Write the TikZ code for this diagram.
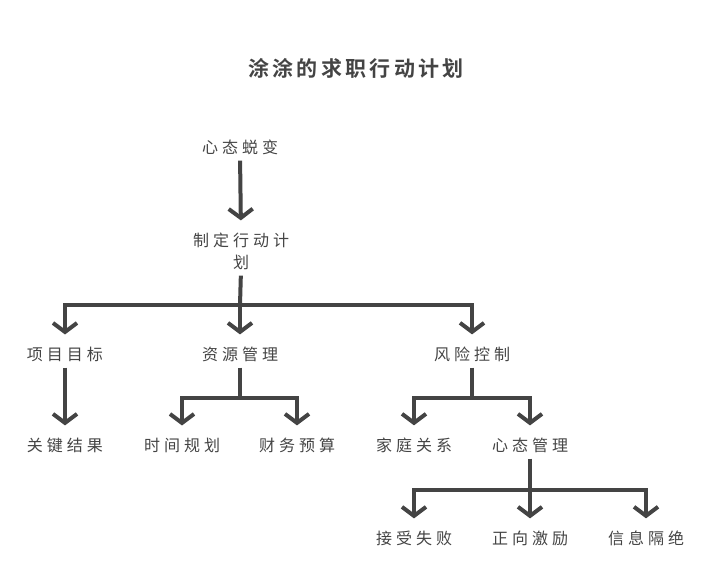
\documentclass[tikz,border=0pt]{standalone}
\usepackage{fontspec}
\newfontfamily\cjk[LetterSpace=25]{Noto Sans CJK SC}
\newfontfamily\cjktitle[LetterSpace=16]{Noto Sans CJK SC Bold}
\usetikzlibrary{positioning,arrows.meta,calc}
\definecolor{inkC}{RGB}{68,68,68}
\tikzset{
	item/.style={inner sep=0pt, text=inkC, font=\cjk\fontsize{16}{22}\selectfont},
	headline/.style={inner sep=0pt, text=inkC, font=\cjktitle\fontsize{21}{24}\selectfont},
	flow/.style={-{Straight Barb[length=9pt,width=24pt]}, line width=4pt, draw=inkC,
		shorten >=12pt, shorten <=6pt},
	branch/.style={line width=4pt, draw=inkC, shorten <=6pt},
}

\begin{document}
\begin{tikzpicture}[x=1pt,y=-1pt]
	\useasboundingbox (0,0) rectangle (712,572);
	
	% =============== TITLE ===============
	\node[headline] (title) at (356,68) {涂涂的求职行动计划};
	
	% =============== NODES ===============
	\node[item] (xt)   at (240,147) {心态蜕变};
	\node[item, align=center] (plan) at (241,251) {制定行动计\\划};
	
	\node[item] (goal) at (65,354)  {项目目标};
	\node[item] (res)  at (240,354) {资源管理};
	\node[item] (risk) at (472,354) {风险控制};
	
	\node[item] (kr)   at (65,445)  {关键结果};
	\node[item] (time) at (182,445) {时间规划};
	\node[item] (fin)  at (297,445) {财务预算};
	\node[item] (fam)  at (414,445) {家庭关系};
	\node[item] (mind) at (530,445) {心态管理};
	
	\node[item] (fail) at (414,538) {接受失败};
	\node[item] (pos)  at (530,538) {正向激励};
	\node[item] (iso)  at (646,538) {信息隔绝};
	
	% =============== BRANCH POINTS ===============
	\coordinate (planB) at (240,305);
	\coordinate (resB)  at (240,398);
	\coordinate (riskB) at (472,398);
	\coordinate (mindB) at (530,490);
	
	% =============== CONNECTORS ===============
	\draw[flow] (xt.south) -- (plan.north);
	
	\draw[branch] (plan.south) -- (planB);
	\draw[flow, shorten <=0pt] (planB) -| (goal.north);
	\draw[flow, shorten <=0pt] (planB) -- (res.north);
	\draw[flow, shorten <=0pt] (planB) -| (risk.north);
	
	\draw[flow] (goal.south) -- (kr.north);
	
	\draw[branch] (res.south) -- (resB);
	\draw[flow, shorten <=0pt] (resB) -| (time.north);
	\draw[flow, shorten <=0pt] (resB) -| (fin.north);
	
	\draw[branch] (risk.south) -- (riskB);
	\draw[flow, shorten <=0pt] (riskB) -| (fam.north);
	\draw[flow, shorten <=0pt] (riskB) -| (mind.north);
	
	\draw[branch] (mind.south) -- (mindB);
	\draw[flow, shorten <=0pt] (mindB) -| (fail.north);
	\draw[flow, shorten <=0pt] (mindB) -- (pos.north);
	\draw[flow, shorten <=0pt] (mindB) -| (iso.north);
	
\end{tikzpicture}
\end{document}
